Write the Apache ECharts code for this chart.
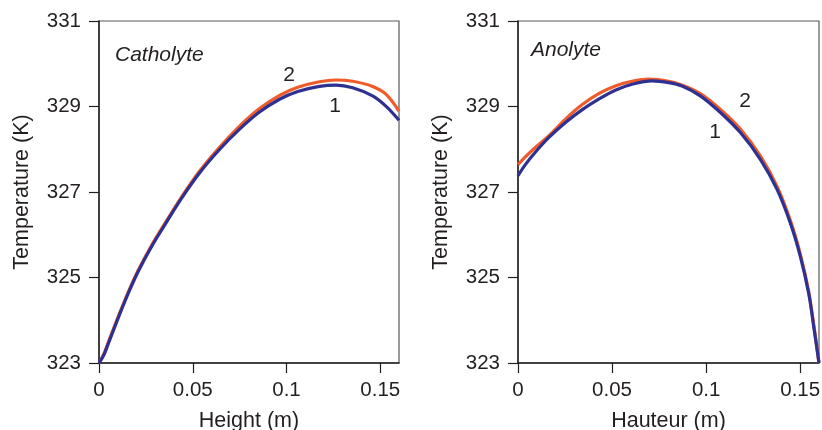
<!DOCTYPE html>
<html>
<head>
<meta charset="utf-8">
<script src="https://cdn.jsdelivr.net/npm/echarts@6/dist/echarts.min.js"></script>
<style>
html,body{margin:0;padding:0;background:#fff;}
#chart{width:822px;height:430px;}
</style>
</head>
<body>
<div id="chart"></div>
<script>
// ---- Data ----
const xTicks = [0, 0.05, 0.1, 0.15];
const yTicks = [323, 325, 327, 329, 331];

// Catholyte (left panel)
const cathX1 = [0, 0.0025, 0.005, 0.0112, 0.0156, 0.0209, 0.028, 0.0351, 0.044, 0.0537, 0.0644, 0.075, 0.0856, 0.0963, 0.106, 0.1176, 0.1264, 0.1353, 0.1459, 0.153, 0.16];
const cathT1 = [323.0, 323.18, 323.46, 324.16, 324.63, 325.14, 325.72, 326.23, 326.85, 327.45, 328.0, 328.47, 328.87, 329.17, 329.35, 329.47, 329.5, 329.44, 329.25, 329.01, 328.68];
const cathX2 = [0, 0.0025, 0.005, 0.0112, 0.0156, 0.0209, 0.028, 0.0351, 0.044, 0.0537, 0.0644, 0.075, 0.0856, 0.0963, 0.106, 0.1176, 0.1264, 0.1353, 0.1459, 0.153, 0.16];
const cathT2 = [323.0, 323.2, 323.49, 324.19, 324.66, 325.17, 325.75, 326.26, 326.88, 327.49, 328.05, 328.54, 328.95, 329.26, 329.45, 329.58, 329.62, 329.59, 329.47, 329.29, 328.89];

// Anolyte (right panel)
const anoX1 = [0, 0.0039, 0.0092, 0.0163, 0.0251, 0.034, 0.0429, 0.0517, 0.0606, 0.0713, 0.0801, 0.0872, 0.0969, 0.1076, 0.1182, 0.1289, 0.1377, 0.1448, 0.1501, 0.1545, 0.1572, 0.16];
const anoT1 = [327.38, 327.64, 327.93, 328.27, 328.62, 328.92, 329.17, 329.38, 329.52, 329.6, 329.56, 329.48, 329.25, 328.86, 328.39, 327.76, 327.06, 326.27, 325.49, 324.63, 323.85, 323.0];
const anoX2 = [0, 0.0039, 0.0092, 0.0163, 0.0251, 0.034, 0.0429, 0.0517, 0.0606, 0.0695, 0.0801, 0.0872, 0.0969, 0.1076, 0.1182, 0.1289, 0.1377, 0.1448, 0.1501, 0.1545, 0.1572, 0.16];
const anoT2 = [327.64, 327.82, 328.04, 328.31, 328.7, 329.04, 329.3, 329.48, 329.59, 329.64, 329.59, 329.5, 329.3, 328.93, 328.47, 327.84, 327.13, 326.33, 325.54, 324.68, 323.9, 323.0];

const panelTitles = ['Catholyte', 'Anolyte'];
const xNames = ['Height (m)', 'Hauteur (m)'];
const yName = 'Temperature (K)';

// ---- Styles ----
const FONT = '"Liberation Sans", Arial, Helvetica, sans-serif';
const TXT = '#231f20';
const BLUE = '#2e3192';
const ORANGE = '#f15a29';

function zip(xs, ys) { return xs.map((x, i) => [x, ys[i]]); }

const grids = [
  { left: 99, top: 21, width: 300, height: 342 },
  { left: 518, top: 21, width: 301, height: 342 }
];

function xAx(i) {
  return {
    type: 'value', gridIndex: i, min: 0, max: 0.16,
    name: xNames[i], nameLocation: 'middle', nameGap: 47,
    nameTextStyle: { fontFamily: FONT, fontSize: 21.5, color: TXT },
    axisLine: { show: true, onZero: false, lineStyle: { color: TXT, width: 1.5 } },
    axisTick: { show: true, inside: false, length: 10, customValues: xTicks, lineStyle: { color: TXT, width: 1.2 } },
    axisLabel: { customValues: xTicks, margin: 17, fontFamily: FONT, fontSize: 20.5, color: TXT,
      formatter: v => String(+v.toFixed(2)) },
    splitLine: { show: false }
  };
}
function yAx(i) {
  return {
    type: 'value', gridIndex: i, min: 323, max: 331,
    name: yName, nameLocation: 'middle', nameGap: 66, nameRotate: 90,
    nameTextStyle: { fontFamily: FONT, fontSize: 21.5, color: TXT },
    axisLine: { show: true, onZero: false, lineStyle: { color: TXT, width: 1.5 } },
    axisTick: { show: true, inside: false, length: 10, customValues: yTicks, lineStyle: { color: TXT, width: 1.2 } },
    axisLabel: { customValues: yTicks, margin: 18, fontFamily: FONT, fontSize: 20.5, color: TXT },
    splitLine: { show: false }
  };
}

function lineSeries(i, data, color, z) {
  return {
    type: 'line', xAxisIndex: i, yAxisIndex: i, data: data, smooth: 0.35,
    showSymbol: false, symbol: 'none', z: z,
    lineStyle: { color: color, width: 3.2 }, animation: false
  };
}

const chart = echarts.init(document.getElementById('chart'), null, { renderer: 'canvas' });
chart.setOption({
  animation: false,
  backgroundColor: '#fff',
  grid: grids.map(g => Object.assign({ show: true, borderColor: '#58595b', borderWidth: 1.2, backgroundColor: 'transparent', containLabel: false, outerBoundsMode: 'none' }, g)),
  xAxis: [xAx(0), xAx(1)],
  yAxis: [yAx(0), yAx(1)],
  series: [
    lineSeries(0, zip(cathX2, cathT2), ORANGE, 2),
    lineSeries(0, zip(cathX1, cathT1), BLUE, 3),
    lineSeries(1, zip(anoX2, anoT2), ORANGE, 2),
    lineSeries(1, zip(anoX1, anoT1), BLUE, 3)
  ],
  graphic: [
    { type: 'text', x: 115, y: 55, style: { text: panelTitles[0], font: 'italic 21px ' + FONT, fill: TXT, textVerticalAlign: 'middle' } },
    { type: 'text', x: 531, y: 50, style: { text: panelTitles[1], font: 'italic 21px ' + FONT, fill: TXT, textVerticalAlign: 'middle' } },
    { type: 'text', x: 289, y: 75, style: { text: '2', font: '21px ' + FONT, fill: TXT, textAlign: 'center', textVerticalAlign: 'middle' } },
    { type: 'text', x: 335, y: 106, style: { text: '1', font: '21px ' + FONT, fill: TXT, textAlign: 'center', textVerticalAlign: 'middle' } },
    { type: 'text', x: 745, y: 101, style: { text: '2', font: '21px ' + FONT, fill: TXT, textAlign: 'center', textVerticalAlign: 'middle' } },
    { type: 'text', x: 715, y: 132, style: { text: '1', font: '21px ' + FONT, fill: TXT, textAlign: 'center', textVerticalAlign: 'middle' } }
  ]
});
</script>
</body>
</html>
